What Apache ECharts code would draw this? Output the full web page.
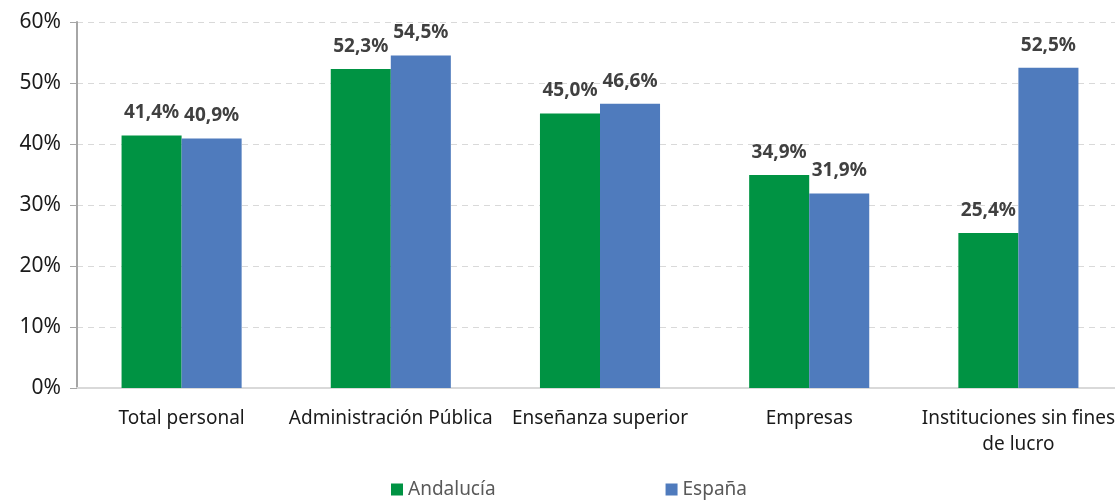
<!DOCTYPE html>
<html>
<head>
<meta charset="utf-8">
<script src="https://cdn.jsdelivr.net/npm/echarts@6/dist/echarts.min.js"></script>
<style>
  html, body { margin: 0; padding: 0; background: #fff; overflow: hidden; }
  #chart { width: 1125px; height: 500px; }
</style>
</head>
<body>
<div id="chart"></div>
<script>
// categorias y valores (%)
var categorias = ["Total personal", "Administración Pública", "Enseñanza superior", "Empresas", "Instituciones sin fines\nde lucro"];
var andalucia = [41.4, 52.3, 45.0, 34.9, 25.4];
var espana = [40.9, 54.5, 46.6, 31.9, 52.5];

var chart = echarts.init(document.getElementById("chart"));

function etiqueta(p) {
  return p.value.toFixed(1).replace(".", ",") + "%";
}

var labelStyle = {
  show: true,
  position: "top",
  distance: 13,
  formatter: etiqueta,
  color: "#404040",
  fontWeight: "bold",
  fontSize: 19,
  fontFamily: "Noto Sans"
};

chart.setOption({
  animation: false,
  textStyle: { fontFamily: "Noto Sans" },
  grid: { left: 77, top: 22, width: 1046, height: 366, containLabel: false },
  legend: {
    bottom: -4,
    left: 386,
    itemGap: 170,
    itemWidth: 12,
    itemHeight: 12,
    icon: "rect",
    textStyle: { color: "#595959", fontSize: 19, fontFamily: "Noto Sans" },
    data: ["Andalucía", "España"]
  },
  xAxis: {
    type: "category",
    data: categorias,
    axisLine: { lineStyle: { color: "#d9d9d9", width: 2 } },
    axisTick: { show: false },
    axisLabel: { color: "#1a1a1a", fontSize: 19, margin: 18, lineHeight: 26, interval: 0 }
  },
  yAxis: {
    type: "value",
    min: 0,
    max: 60,
    interval: 10,
    axisLine: { show: true, lineStyle: { color: "#a6a6a6", width: 2 } },
    axisTick: { show: true, length: 7, lineStyle: { color: "#a6a6a6" } },
    axisLabel: { formatter: "{value}%", color: "#1a1a1a", fontSize: 21, margin: 16 },
    splitLine: { lineStyle: { color: "#d9d9d9", type: [6, 5] } }
  },
  series: [
    {
      name: "Andalucía",
      type: "bar",
      data: andalucia,
      barGap: "0%",
      barCategoryGap: "42.6%",
      itemStyle: { color: "#009343" },
      label: labelStyle
    },
    {
      name: "España",
      type: "bar",
      data: espana,
      itemStyle: { color: "#4f7bbd" },
      label: labelStyle
    }
  ]
});
</script>
</body>
</html>
